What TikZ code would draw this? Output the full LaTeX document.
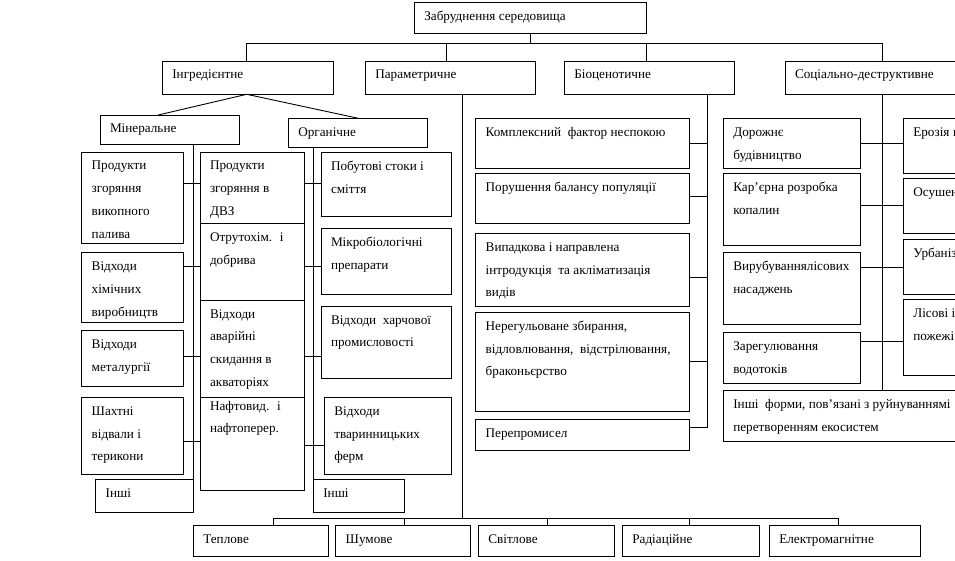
\documentclass[tikz,border=0pt]{standalone}
\usepackage{fontspec}
\setmainfont{Liberation Serif}
\newcommand\fsz{\fontsize{13.2}{22.8}\selectfont}
\tikzset{
  boxst/.style={draw, line width=0.9pt, inner sep=0pt, outer sep=0pt},
  txt/.style={anchor=north west, inner sep=0pt, outer sep=0pt, align=left, font=\fsz},
  ln/.style={line width=0.9pt}
}
% name, x1, y1, x2, y2, text
\newcommand\bx[6]{%
  \node[boxst, minimum width={(#4)-(#2)}, minimum height={(#5)-(#3)}] (#1) at ({((#2)+(#4))/2},{((#3)+(#5))/2}) {};
  \node[txt] (#1t) at ({(#2)+10},{(#3)+8}) {\rule{0pt}{10pt}#6};}
\begin{document}
\begin{tikzpicture}[x=1pt,y=-1pt]
\useasboundingbox (0,0) rectangle (955,561);
\clip (0,0) rectangle (955,561);
\fill[white] (0,0) rectangle (955,561);
% title and level 2
\bx{title}{414.3}{2.3}{646}{33.3}{Забруднення середовища}
\bx{ingr}{162.3}{61}{333.3}{94.3}{Інгредієнтне}
\bx{param}{365.3}{61}{535}{94.3}{Параметричне}
\bx{bio}{564.3}{61}{734.3}{94.3}{Біоценотичне}
\bx{soc}{785}{61}{1010}{94.3}{Соціально-деструктивне}
\coordinate (busL) at (246.7,43.3);
\coordinate (busR) at (882.7,43.3);
\draw[ln] (title.south) -- (title.south |- busL);
\draw[ln] (ingr.north -| busL) -- (busL) -- (busR) -- (soc.north -| busR);
\draw[ln] (param.north -| 446,0) -- (446,43.3);
\draw[ln] (bio.north -| 646,0) -- (646,43.3);
% ingredient split
\bx{mine}{100}{115}{239.3}{144.3}{Мінеральне}
\bx{org}{288.3}{118.3}{427.3}{147}{Органічне}
\draw[ln] (mine.north -| 158.3,0) -- (ingr.south -| busL) -- (org.north -| 358.3,0);
% left column
\bx{L1}{81.7}{152}{183}{243.7}{Продукти\\згоряння\\викопного\\палива}
\bx{L2}{81.7}{252.7}{183}{322.7}{Відходи\\хімічних\\виробництв}
\bx{L3}{81.7}{330.7}{183}{386}{Відходи\\металургії}
\bx{L4}{81.7}{397.3}{183}{474.3}{Шахтні\\відвали і\\терикони}
\bx{L5}{95.7}{479}{193.3}{512}{Інші}
% middle stacked column
\bx{M1}{200}{152}{304}{223.3}{Продукти\\згоряння в\\ДВЗ}
\bx{M2}{200}{223.3}{304}{300}{Отрутохім.~ і\\добрива}
\bx{M3}{200}{300}{304}{397.3}{Відходи\\аварійні\\скидання в\\акваторіях}
\node[boxst, minimum width=104, minimum height={490.7-397.3}] (M4) at (252,{(397.3+490.7)/2}) {};
\node[txt] (M4t) at (210,{397.3+2.7}) {\rule{0pt}{10pt}Нафтовид.~ і\\нафтоперер.};
% organic column
\bx{O1}{321}{152.3}{451.7}{216}{Побутові стоки і\\сміття}
\bx{O2}{321}{228.3}{451.7}{294.3}{Мікробіологічні\\препарати}
\bx{O3}{321}{306}{451.7}{378.3}{Відходи~ харчової\\промисловості}
\bx{O4}{324.3}{397.3}{451.7}{474.3}{Відходи\\тваринницьких\\ферм}
\bx{O5}{313.3}{479}{404.3}{512}{Інші}
% verticals
\draw[ln] (mine.south -| 193.3,0) -- (L5.north east);
\draw[ln] (org.south -| 313.3,0) -- (O5.north west);
% horizontal connectors
\draw[ln] (L1.east |- 0,183.3) -- (M1.west |- 0,183.3);
\draw[ln] (L2.east |- 0,266.7) -- (M2.west |- 0,266.7);
\draw[ln] (L3.east |- 0,356.7) -- (M3.west |- 0,356.7);
\draw[ln] (L4.east |- 0,441.7) -- (M4.west |- 0,441.7);
\draw[ln] (M1.east |- 0,183.3) -- (O1.west |- 0,183.3);
\draw[ln] (M2.east |- 0,266.7) -- (O2.west |- 0,266.7);
\draw[ln] (M3.east |- 0,356.7) -- (O3.west |- 0,356.7);
\draw[ln] (M4.east |- 0,445) -- (O4.west |- 0,445);
% bio column
\bx{B1}{475.7}{118.3}{689.3}{168.3}{Комплексний~ фактор неспокою}
\bx{B2}{475.7}{173.3}{689.3}{223.3}{Порушення балансу популяції}
\bx{B3}{475.7}{233.3}{689.3}{306}{Випадкова і направлена\\інтродукція~ та акліматизація\\видів}
\bx{B4}{475.7}{312.3}{689.3}{411}{Нерегульоване збирання,\\відловлювання,~ відстрілювання,\\браконьєрство}
\bx{B5}{475.7}{419.3}{689.3}{450}{Перепромисел}
\coordinate (bioEnd) at (707,427.7);
\draw[ln] (bio.south -| bioEnd) -- (bioEnd) -- (B5.east |- bioEnd);
\draw[ln] (B1.east |- 0,143.3) -- (707,143.3);
\draw[ln] (B2.east |- 0,196) -- (707,196);
\draw[ln] (B3.east |- 0,277) -- (707,277);
\draw[ln] (B4.east |- 0,361) -- (707,361);
% social column
\bx{S1}{723.3}{118.3}{860.3}{168.3}{Дорожнє\\будівництво}
\bx{S2}{723.3}{173.3}{860.3}{245.7}{Кар’єрна розробка\\копалин}
\bx{S3}{723.3}{252.3}{860.3}{324.3}{Вирубуваннялісових\\насаджень}
\bx{S4}{723.3}{332.3}{860.3}{383.3}{Зарегулювання\\водотоків}
\bx{S5}{723.3}{390.7}{1010}{441.7}{Інші~ форми, пов’язані з руйнуваннямі\\перетворенням екосистем}
\bx{R1}{903.3}{118.3}{1010}{173.3}{Ерозія ґрунтів}
\bx{R2}{903.3}{178.3}{1010}{233.3}{Осушення}
\bx{R3}{903.3}{239.3}{1010}{294.3}{Урбанізація}
\bx{R4}{903.3}{299.3}{1010}{375.7}{Лісові і степові\\пожежі}
\draw[ln] (soc.south -| busR) -- (S5.north -| busR);
\draw[ln] (S1.east |- 0,143.3) -- (R1.west |- 0,143.3);
\draw[ln] (busR |- 0,205) -- (R2.west |- 0,205);
\draw[ln] (S2.east |- 0,205) -- (busR |- 0,205);
\draw[ln] (S3.east |- 0,267.7) -- (R3.west |- 0,267.7);
\draw[ln] (S4.east |- 0,341.7) -- (R4.west |- 0,341.7);
% parametric bottom
\bx{T1}{193.3}{525}{328.3}{556}{Теплове}
\bx{T2}{335.7}{525}{470}{556}{Шумове}
\bx{T3}{478.3}{525}{614.3}{556}{Світлове}
\bx{T4}{622.3}{525}{759}{556}{Радіаційне}
\bx{T5}{769.3}{525}{920.7}{556}{Електромагнітне}
\coordinate (bbL) at (273.3,518.3);
\coordinate (bbR) at (838.3,518.3);
\draw[ln] (param.south -| 462.7,0) -- (462.7,518.3);
\draw[ln] (T1.north -| bbL) -- (bbL) -- (bbR) -- (T5.north -| bbR);
\draw[ln] (T2.north -| 404.3,0) -- (404.3,518.3);
\draw[ln] (T3.north -| 547.3,0) -- (547.3,518.3);
\draw[ln] (T4.north -| 689.3,0) -- (689.3,518.3);
\end{tikzpicture}
\end{document}
